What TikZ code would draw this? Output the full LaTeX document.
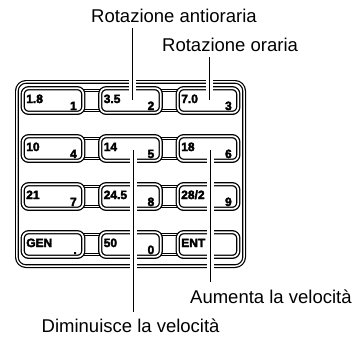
\documentclass[tikz,border=0pt]{standalone}
\usepackage{fontspec}
\setmainfont{Liberation Sans}
\newfontfamily\keyfont[FakeBold=3]{Liberation Sans Bold}
\tikzset{
  padframe/.style={draw, line width=1.2pt, double, double distance=1.4pt,
    rounded corners=9pt, minimum width=227.2pt, minimum height=184.2pt, inner sep=0pt},
  keycap/.style={draw, fill=white, line width=1.3pt, double, double distance=1.7pt,
    rounded corners=6pt, minimum width=60.6pt, minimum height=24.6pt, inner sep=0pt},
  bridge/.style={draw, fill=white, line width=0.8pt, double, double distance=1.2pt},
  keytop/.style={font=\fontsize{12}{13}\keyfont, inner sep=0pt, anchor=base west},
  keynum/.style={font=\fontsize{12}{13}\keyfont, inner sep=0pt, anchor=base east},
  callout/.style={font=\fontsize{18.5}{22}\selectfont, inner sep=0pt, anchor=base west},
  leader/.style={preaction={draw, white, line width=7pt}, line width=0.8pt},
}
\begin{document}
\begin{tikzpicture}[x=1pt, y=-1pt]
    % Keypad: 4 rows x 3 columns inside a double framed case
    % Coordinates in px of the 355x338 picture, y pointing down
    %   case from (15,80) to (246,268)
    %   key centres x = 53 + 77.5*col, y = 100.5 + 48*row
    \useasboundingbox (0,0) rectangle (355,338);
    \node[padframe] (pad) at (130.5,174) {};
    % little bridges between the keys of a row
    \foreach \row in {0,...,3}
      \foreach \col in {0,1}
        \draw[bridge] ({53+77.5*\col+30}, {100.5+48*\row-10})
          rectangle ({53+77.5*(\col+1)-30}, {100.5+48*\row+10});
    \foreach \tp/\nm [count=\i from 0] in {1.8/1, 3.5/2, 7.0/3, 10/4, 14/5, 18/6,
        21/7, 24.5/8, {28/2}/9, GEN/., 50/0, ENT/{}}{
      \pgfmathtruncatemacro\col{mod(\i,3)}
      \pgfmathtruncatemacro\row{div(\i,3)}
      \node[keycap] (key\i) at ({53+77.5*\col}, {100.5+48*\row}) {};
      \node[keytop] (top\i) at ([xshift=4pt, yshift=-2.5pt]key\i.west) {\tp};
      \node[keynum] (num\i) at ([xshift=-7pt, yshift=-9.5pt]key\i.east) {\nm};
    }
    % callouts
    \node[callout] (antior) at (91,22) {Rotazione antioraria};
    \node[callout] (orar) at (162,51.5) {Rotazione oraria};
    \node[callout] (aumenta) at (190,303) {Aumenta la velocità};
    \node[callout] (diminu) at (41.5,332) {Diminuisce la velocità};
    \coordinate (tipccw) at (132,100);
    \coordinate (tipcw) at (209.5,100);
    \coordinate (tipup) at (210,150);
    \coordinate (tipdown) at (133,150);
    \draw[leader, shorten >=6pt] (tipccw) -- (tipccw |- antior.south);
    \draw[leader, shorten >=5.5pt] (tipcw) -- (tipcw |- orar.south);
    \draw[leader, shorten >=7.5pt] (tipup) -- (tipup |- aumenta.north);
    \draw[leader, shorten >=6.5pt] (tipdown) -- (tipdown |- diminu.north);
\end{tikzpicture}
\end{document}
